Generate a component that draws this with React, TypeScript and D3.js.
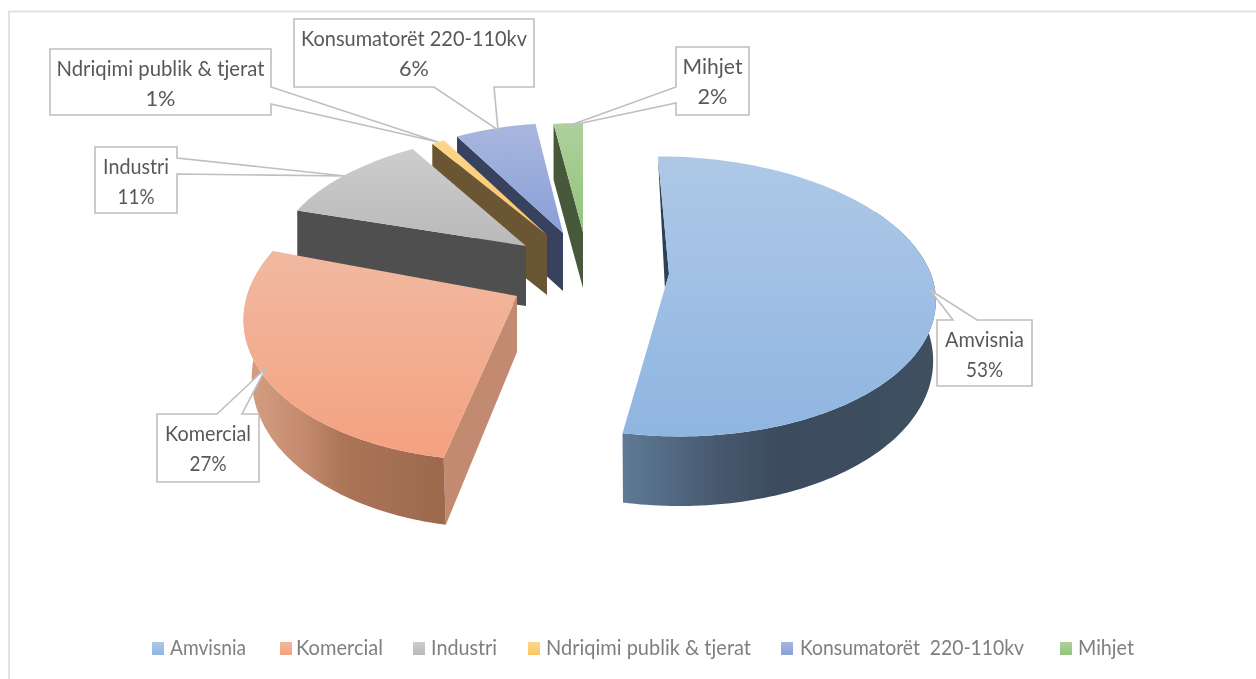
import * as d3 from 'd3'

const W = 1256, H = 679

const CATEGORIES = ['Amvisnia', 'Komercial', 'Industri', 'Ndriqimi publik & tjerat', 'Konsumatorët 220-110kv', 'Mihjet']
const LEGEND_NAMES = ['Amvisnia', 'Komercial', 'Industri', 'Ndriqimi publik & tjerat', 'Konsumatorët  220-110kv', 'Mihjet']
const VALUES = [53, 27, 11, 1, 6, 2]

// top face gradient, side gradient stops
const TOP_COLORS = [['#aec9e7', '#8fb5e1'], ['#f1b9a1', '#f4a17f'], ['#cdcdcd', '#b9b9b9'], ['#fdd68c', '#fbc564'], ['#a8b7de', '#8a9fd8'], ['#aed09c', '#93c47c']]
const WALL_COLORS = [['#5f7a96', '#47596f', '#3c4c5e', '#3f5061'], ['#d6a086', '#c48a6d', '#ab7457', '#9c694d'], ['#4f4f4f', '#4f4f4f', '#505050', '#555555'], ['#6d5935', '#6a5632', '#6a5632', '#6a5632'], ['#3e4a68', '#3a4663', '#37435f', '#37435f'], ['#4d5c44', '#46593a', '#3f5a30', '#3f5a30']]
const WALL_STOPS = [0, 0.3, 0.5, 1]
const FACE_COLORS = ['#2f4155', '#c28a70', '#4f4f4f', '#6a5632', '#37435f', '#46593a']

// each exploded slice: screen position of its tip, radii, perspective
const APEX_X = [669, 517, 526, 547, 563, 583]
const APEX_Y = [274, 296, 246, 235, 233, 232]
const RADIUS_X = [262, 270, 248, 214, 220, 235]
const RADIUS_Y = [140, 150, 115, 108, 110, 109]
const PERSP = [0.16, 0.1, 0, 0, 0, 0]
const SHEAR_BACK = [0.094, -0.11, -0.2, 0, 0, 0]
const SHEAR_FRONT = [0.065, -0.11, -0.2, 0, 0, 0]
const DEPTH = [58, 56, 60, 60, 58, 56]
const BASE_SHRINK = [0.01, 0.03, 0, 0, 0, 0]
const WALL_OVERLAP = 0.5 // radians of side wall kept behind the top face
const DRAW_ORDER = [5, 4, 3, 2, 1, 0]

// callouts: box x0,y0,x1,y1, pointer base 2 points, tip
const BOXES = [[937, 320, 1032, 386], [157, 414, 259, 482], [95, 147, 177, 213], [50, 49, 271, 115], [294, 19, 534, 87], [676, 47, 749, 115]]
const POINTER_BASE = [[[953, 320], [977, 320]], [[217, 414], [242, 414]], [[177, 158], [177, 174]], [[271, 87], [271, 104]], [[434, 87], [494, 87]], [[676, 87], [676, 103]]]
const POINTER_TIP = [[930, 290], [266, 368], [345, 176], [438, 142], [498, 130], [568, 126]]
const NAME_WIDTH = [79, 86, 66, 208, 226, 60]

const LEGEND_SQUARE_X = [152, 280, 413, 528, 781, 1060]
const LEGEND_TEXT_X = [170, 296, 431, 546, 800, 1078]
const LEGEND_TEXT_W = [76, 87, 66, 205, 224, 56]

const FONT = 'Lato, "Open Sans", sans-serif'
const TEXT_COLOR = '#595959'

const arcs = d3.pie<number>().sort(null).value((d) => d)(VALUES)

function project(i: number, theta: number, r: number, z: number): [number, number] {
  const u = r * Math.sin(theta)
  const v = -r * Math.cos(theta)
  const f = 1 + PERSP[i] * v
  const dy = RADIUS_Y[i] * v * f
  const dx = RADIUS_X[i] * u * f + (dy > 0 ? SHEAR_FRONT[i] : SHEAR_BACK[i]) * dy
  return [APEX_X[i] + dx * (1 - BASE_SHRINK[i] * z), APEX_Y[i] + dy + z * DEPTH[i] * (1 + 0.2 * Math.max(v, 0))]
}

function sample(a0: number, a1: number) {
  const n = Math.max(2, Math.ceil(Math.abs(a1 - a0) / 0.02))
  return d3.range(n + 1).map((k) => a0 + ((a1 - a0) * k) / n)
}

const line = d3.line<[number, number]>()

function topPath(i: number) {
  const { startAngle, endAngle } = arcs[i]
  return line([project(i, 0, 0, 0), ...sample(startAngle, endAngle).map((t) => project(i, t, 1, 0))]) + 'Z'
}

// outer side of the slice, only where it faces the viewer
function wallPath(i: number) {
  const { startAngle, endAngle } = arcs[i]
  if (startAngle >= (Math.PI * 3) / 2) return null
  const a0 = Math.max(startAngle, Math.PI / 2 - WALL_OVERLAP)
  const a1 = Math.min(endAngle, (Math.PI * 3) / 2 + WALL_OVERLAP)
  const ts = sample(a0, a1)
  return line([...ts.map((t) => project(i, t, 1, 0)), ...ts.slice().reverse().map((t) => project(i, t, 1, 1))]) + 'Z'
}

// cut face along the start edge of the slice
function facePath(i: number) {
  const t = arcs[i].startAngle
  return line([project(i, t, 1, 0), project(i, t, 0, 0), project(i, t, 0, 1), project(i, t, 1, 1)]) + 'Z'
}

// the first slice only shows a sliver of its far cut face
function sliverPath() {
  const { endAngle } = arcs[0]
  return line([project(0, 0, 1, 0), project(0, 0, 0, 0), project(0, endAngle, 0.1, 0)]) + 'Z'
}

function Callout({ i }: { i: number }) {
  const [x0, y0, x1, y1] = BOXES[i]
  const b0 = POINTER_BASE[i][0] as [number, number]
  const b1 = POINTER_BASE[i][1] as [number, number]
  const tip = POINTER_TIP[i] as [number, number]
  // walk round the box and put the pointer in on the edge it sits on
  let pts: [number, number][]
  if (b0[1] === y0) pts = [[x0, y0], b0, tip, b1, [x1, y0], [x1, y1], [x0, y1]]
  else if (b0[1] === y1) pts = [[x0, y0], [x1, y0], [x1, y1], b1, tip, b0, [x0, y1]]
  else if (b0[0] === x1) pts = [[x0, y0], [x1, y0], b0, tip, b1, [x1, y1], [x0, y1]]
  else pts = [[x0, y0], [x1, y0], [x1, y1], [x0, y1], b1, tip, b0]
  const cx = (x0 + x1) / 2
  return (
    <g>
      <path d={line(pts) + 'Z'} fill="#fff" stroke="#bfbfbf" strokeWidth={1.6} />
      <text x={cx} y={y0 + 27} textAnchor="middle" fontFamily={FONT} fontSize={21} fill={TEXT_COLOR} textLength={NAME_WIDTH[i]} lengthAdjust="spacingAndGlyphs">{CATEGORIES[i]}</text>
      <text x={cx} y={y0 + 57} textAnchor="middle" fontFamily={FONT} fontSize={21} fill={TEXT_COLOR} textLength={i === 3 || i === 4 || i === 5 ? 30 : 37} lengthAdjust="spacingAndGlyphs">{VALUES[i]}%</text>
    </g>
  )
}

export default function App() {
  return (
    <svg width={W} height={H} viewBox={`0 0 ${W} ${H}`} style={{ position: 'absolute', left: 0, top: 0, display: 'block' }}>
      <defs>
        <filter id="soft" x="-5%" y="-5%" width="110%" height="110%">
          <feGaussianBlur stdDeviation="0.5" />
        </filter>
        {CATEGORIES.map((_, i) => (
          <linearGradient key={i} id={`top${i}`} x1="0" y1="0" x2="0" y2="1">
            <stop offset="0" stopColor={TOP_COLORS[i][0]} />
            <stop offset="1" stopColor={TOP_COLORS[i][1]} />
          </linearGradient>
        ))}
        {CATEGORIES.map((_, i) => (
          <linearGradient key={i} id={`wall${i}`} x1="0" y1="0" x2="1" y2="0">
            {WALL_COLORS[i].map((c, k) => (
              <stop key={k} offset={WALL_STOPS[k]} stopColor={c} />
            ))}
          </linearGradient>
        ))}
      </defs>

      <rect width={W} height={H} fill="#fff" />
      <path d={`M9,679V11.5H${W}`} fill="none" stroke="#e2e2e2" strokeWidth={2} />

      <g filter="url(#soft)">
        {DRAW_ORDER.map((i) => {
          const wall = wallPath(i)
          return (
            <g key={i}>
              {i === 0 ? <path d={sliverPath()} fill={FACE_COLORS[0]} /> : <path d={facePath(i)} fill={FACE_COLORS[i]} />}
              {wall && <path d={wall} fill={`url(#wall${i})`} />}
              <path d={topPath(i)} fill={`url(#top${i})`} />
            </g>
          )
        })}
        {CATEGORIES.map((_, i) => <Callout key={i} i={i} />)}
        {LEGEND_NAMES.map((name, i) => (
          <g key={i}>
            <rect x={LEGEND_SQUARE_X[i]} y={642} width={12} height={13} fill={`url(#top${i})`} />
            <text x={LEGEND_TEXT_X[i]} y={655} fontFamily={FONT} fontSize={21} fill="#7f7f7f" textLength={LEGEND_TEXT_W[i]} lengthAdjust="spacingAndGlyphs" xmlSpace="preserve">{name}</text>
          </g>
        ))}
      </g>
    </svg>
  )
}
